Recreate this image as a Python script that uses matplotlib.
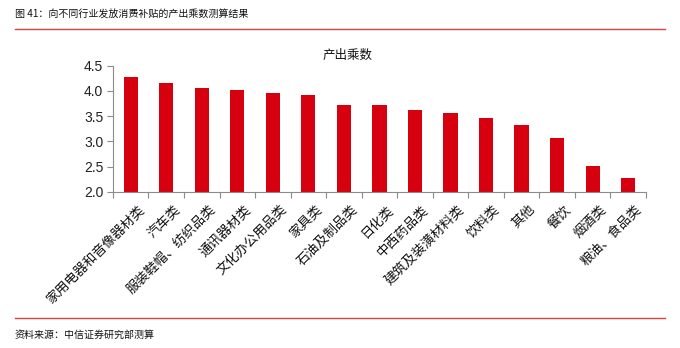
import matplotlib.pyplot as plt
import numpy as np

plt.rcParams['font.family'] = ['Noto Sans CJK SC', 'DejaVu Sans']

# 各行业产出乘数
categories = ['家用电器和音像器材类', '汽车类', '服装鞋帽、纺织品类', '通讯器材类',
              '文化办公用品类', '家具类', '石油及制品类', '日化类', '中西药品类',
              '建筑及装潢材料类', '饮料类', '其他', '餐饮', '烟酒类', '粮油、食品类']
multipliers = [4.27, 4.15, 4.06, 4.02, 3.95, 3.92, 3.72, 3.72, 3.63,
               3.56, 3.47, 3.32, 3.07, 2.52, 2.28]
yticks = [2.0, 2.5, 3.0, 3.5, 4.0, 4.5]

RED = '#D7000F'
GREY = '#8C8C8C'

fig = plt.figure(figsize=(6.8, 3.48), dpi=100)
ax = fig.add_axes([0.166, 0.449, 0.784, 0.362])

x = np.arange(len(categories))
ax.bar(x, multipliers, width=0.4, color=RED, zorder=2)

ax.set_xlim(-0.5, len(categories) - 0.5)
ax.set_ylim(2.0, 4.5)
ax.set_yticks(yticks)
ax.set_yticklabels([f'{v:.1f}' for v in yticks], family=['Liberation Sans', 'DejaVu Sans'],
                   fontsize=10, color='#222222')

# 刻度线画在类别分界处，标签放在柱子中心
ax.set_xticks(np.arange(len(categories) + 1) - 0.5)
ax.set_xticklabels([])
ax.tick_params(axis='x', length=4, width=0.8, color=GREY, direction='out')
ax.tick_params(axis='y', length=4, width=0.8, color=GREY, direction='out', pad=3)
for i, name in enumerate(categories):
    ax.annotate(name, xy=(i, 2.0), xycoords='data', xytext=(5, -8),
                textcoords='offset points', rotation=45, ha='right', va='top',
                rotation_mode='anchor', fontsize=9.5, color='#111111')

for side in ['top', 'right']:
    ax.spines[side].set_visible(False)
for side in ['left', 'bottom']:
    ax.spines[side].set_color(GREY)
    ax.spines[side].set_linewidth(0.8)

ax.text(0.44, 1.03, '产出乘数', transform=ax.transAxes, ha='center', va='bottom',
        fontsize=9, color='#111111')

# 页眉页脚
fig.text(15 / 680, 1 - 14 / 348, '图 41：向不同行业发放消费补贴的产出乘数测算结果',
         ha='left', va='center', fontsize=7.2, color='#111111')
fig.add_artist(plt.Line2D([15 / 680, 665 / 680], [1 - 29 / 348, 1 - 29 / 348],
                          color='#E0413F', linewidth=1.0))
fig.add_artist(plt.Line2D([15 / 680, 665 / 680], [1 - 318 / 348, 1 - 318 / 348],
                          color='#E0413F', linewidth=1.0))
fig.text(15 / 680, 1 - 335 / 348, '资料来源：中信证券研究部测算',
         ha='left', va='center', fontsize=7.2, color='#111111')

fig.savefig('out.png', dpi=100)
